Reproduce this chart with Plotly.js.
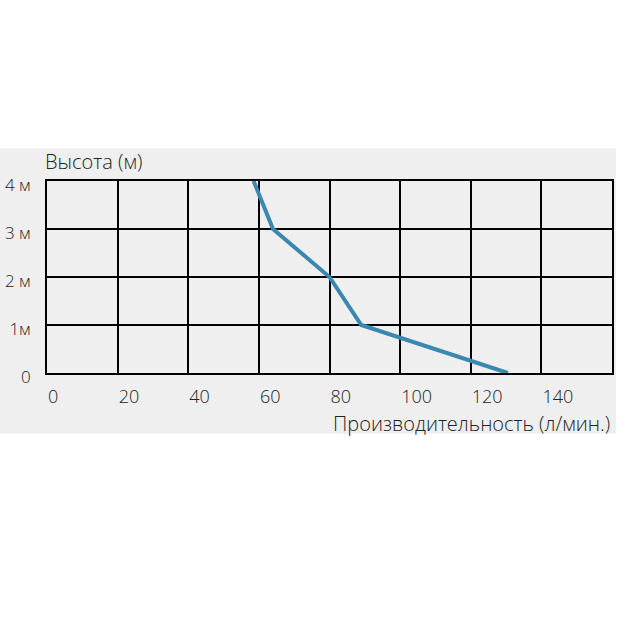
<!DOCTYPE html>
<html>
<head>
<meta charset="utf-8">
<script src="https://cdn.plot.ly/plotly-3.0.1.min.js"></script>
<style>
html,body{margin:0;padding:0;background:#ffffff;}
#chart{width:620px;height:619px;}
</style>
</head>
<body>
<div id="chart"></div>
<script>
const flowRate = [58.5, 64, 80, 89, 130.5];
const height = [4, 3, 2, 1, 0];
const xTickVals = [0, 20, 40, 60, 80, 100, 120, 140];
const xTickText = ['0', '20', '40', '60', '80', '100', '120', '140'];
const yTickVals = [0, 1, 2, 3, 4];
const yTickText = ['0', '1м', '2 м', '3 м', '4 м'];
const xTitle = 'Производительность (л/мин.)';
const yTitle = 'Высота (м)';

const FONT = '"Open Sans", Lato, sans-serif';
const TXT = '#222222';

const trace = {
  x: flowRate, y: height, type: 'scatter', mode: 'lines',
  line: {color: '#3a88b0', width: 4},
  hoverinfo: 'skip', cliponaxis: false
};

const layout = {
  width: 620, height: 619,
  paper_bgcolor: '#ffffff',
  plot_bgcolor: '#efefef',
  margin: {l: 47, r: 8, t: 181, b: 246, pad: 0},
  showlegend: false,
  font: {family: FONT, color: TXT, size: 17, weight: 300},
  xaxis: {
    range: [0, 160], tickvals: xTickVals, ticktext: xTickText,
    showgrid: true, gridcolor: '#000000', gridwidth: 2,
    showline: true, linecolor: '#000000', linewidth: 2, mirror: true,
    zeroline: false, ticks: '', ticklabelposition: 'outside right',
    tickfont: {family: FONT, size: 18, color: TXT, weight: 300},
    ticklabelstandoff: 6,
    fixedrange: true
  },
  yaxis: {
    range: [0, 4], tickvals: yTickVals, ticktext: yTickText,
    showgrid: true, gridcolor: '#000000', gridwidth: 2,
    showline: true, linecolor: '#000000', linewidth: 2, mirror: true,
    zeroline: false, ticks: '',
    tickfont: {family: FONT, size: 17, color: TXT, weight: 300},
    ticklabelstandoff: 11, ticklabelshift: 4,
    fixedrange: true
  },
  shapes: [{
    type: 'rect', xref: 'paper', yref: 'paper', layer: 'below',
    x0: -47/565, x1: 569/565, y0: (373 - 434) / 193, y1: (373 - 147) / 193,
    fillcolor: '#efefef', line: {width: 0}
  }],
  annotations: [
    {text: yTitle, xref: 'paper', yref: 'paper', x: -4/565, y: (373 - 160) / 193,
     xanchor: 'left', yanchor: 'middle', showarrow: false,
     font: {family: FONT, size: 20, color: TXT, weight: 300}},
    {text: xTitle, xref: 'paper', yref: 'paper', x: 1, y: (373 - 424) / 193,
     xanchor: 'right', yanchor: 'middle', showarrow: false,
     font: {family: FONT, size: 20, color: TXT, weight: 300}}
  ]
};

Plotly.newPlot('chart', [trace], layout, {displayModeBar: false, staticPlot: true});
</script>
</body>
</html>
